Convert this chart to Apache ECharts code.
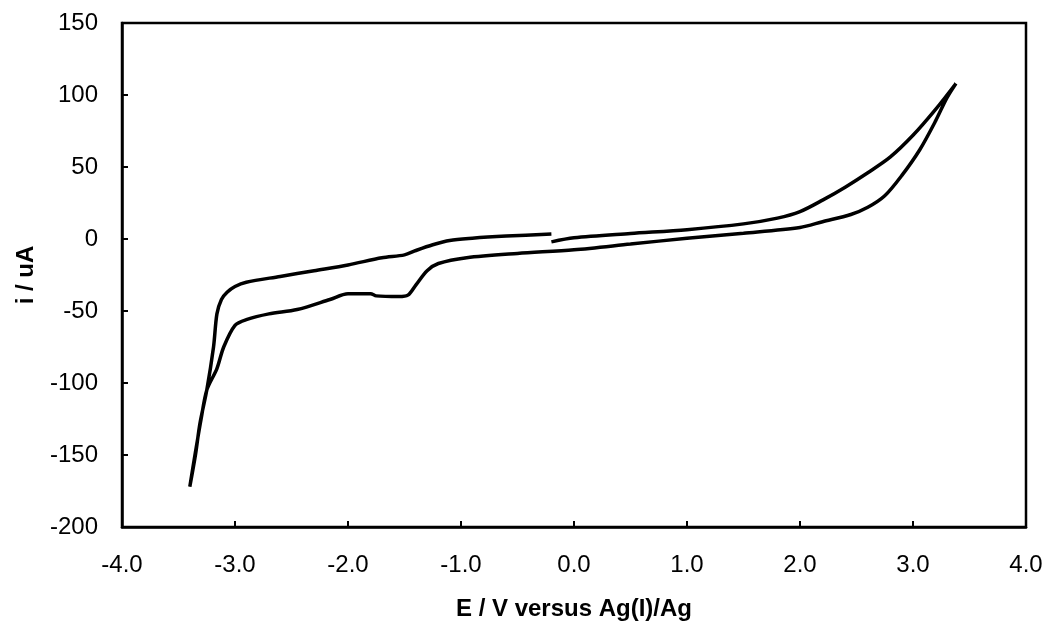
<!DOCTYPE html>
<html>
<head>
<meta charset="utf-8">
<script src="https://cdn.jsdelivr.net/npm/echarts@6/dist/echarts.min.js"></script>
<style>
  html, body { margin: 0; padding: 0; background: #fff; }
  #chart { width: 1047px; height: 629px; }
</style>
</head>
<body>
<div id="chart"></div>
<script>
// forward scan, -0.2 V up to the anodic limit
const forwardE = [-0.2, 0.0, 0.5, 1.0, 1.5, 1.8, 2.0, 2.2, 2.4, 2.6, 2.8, 3.0, 3.2, 3.38];
const forwardI = [-2, 0.8, 3.8, 6.5, 10.5, 14.5, 19, 27, 36, 46, 57, 72, 90, 108];

// reverse scan, anodic limit down to the cathodic limit
const reverseE = [3.3, 3.2, 3.06, 2.9, 2.75, 2.6, 2.45, 2.2, 2.0, 1.5, 1.0, 0.5, 0.0, -0.5, -0.95, -1.2,
  -1.3, -1.4, -1.47, -1.55, -1.75, -1.8, -2.0, -2.16, -2.45, -2.7, -2.9, -3.0, -3.1, -3.16, -3.25, -3.3, -3.35, -3.4];
const reverseI = [98, 82, 62, 44, 30, 22, 17, 12, 8, 4, 0.5, -3.5, -7.5, -10, -13, -17,
  -22, -32, -39, -40, -39.5, -38, -38, -42, -49, -52, -56, -60, -75, -90, -105, -125, -148, -172];

// return scan back toward -0.2 V
const returnE = [-3.35, -3.31, -3.25, -3.19, -3.16, -3.12, -3.07, -3.0, -2.9, -2.6, -2.3, -2.0, -1.7, -1.5, -1.4, -1.25, -1.1, -0.9, -0.6, -0.2];
const returnI = [-150, -128, -105, -75, -52, -42, -37, -33, -30, -26, -22, -18, -13, -11, -8, -4, -1, 0.5, 2, 3.5];

const chart = echarts.init(document.getElementById('chart'));

const scanData = [];
[[forwardE, forwardI], [reverseE, reverseI], [returnE, returnI]].forEach(([es, is]) => {
  es.forEach((e, k) => scanData.push([e, is[k]]));
});

const font = 'Liberation Sans, Arial, sans-serif';

chart.setOption({
  animation: false,
  grid: {
    left: 122, right: 21, top: 23, bottom: 102,
    show: true, borderColor: '#000', borderWidth: 2.5, backgroundColor: '#fff'
  },
  xAxis: {
    type: 'value',
    min: -4, max: 4, interval: 1,
    name: 'E / V versus Ag(I)/Ag',
    nameLocation: 'middle',
    nameGap: 70,
    nameTextStyle: { color: '#000', fontFamily: font, fontSize: 24, fontWeight: 'bold' },
    axisLine: { show: true, onZero: false, lineStyle: { color: '#000', width: 2.5 } },
    axisTick: { show: true, inside: true, length: 6, lineStyle: { color: '#000', width: 2 } },
    axisLabel: {
      color: '#000', fontFamily: font, fontSize: 24, margin: 26,
      formatter: v => v.toFixed(1)
    },
    splitLine: { show: false }
  },
  yAxis: {
    type: 'value',
    min: -200, max: 150, interval: 50,
    name: 'i / uA',
    nameLocation: 'middle',
    nameGap: 84,
    nameTextStyle: { color: '#000', fontFamily: font, fontSize: 24, fontWeight: 'bold' },
    axisLine: { show: true, onZero: false, lineStyle: { color: '#000', width: 2.5 } },
    axisTick: { show: true, inside: true, length: 6, lineStyle: { color: '#000', width: 2 } },
    axisLabel: { color: '#000', fontFamily: font, fontSize: 24, margin: 24 },
    splitLine: { show: false }
  },
  series: [
    {
      type: 'line',
      data: scanData,
      showSymbol: false,
      smooth: 0.3,
      lineStyle: { color: '#000', width: 3.5 }
    }
  ]
});
</script>
</body>
</html>
